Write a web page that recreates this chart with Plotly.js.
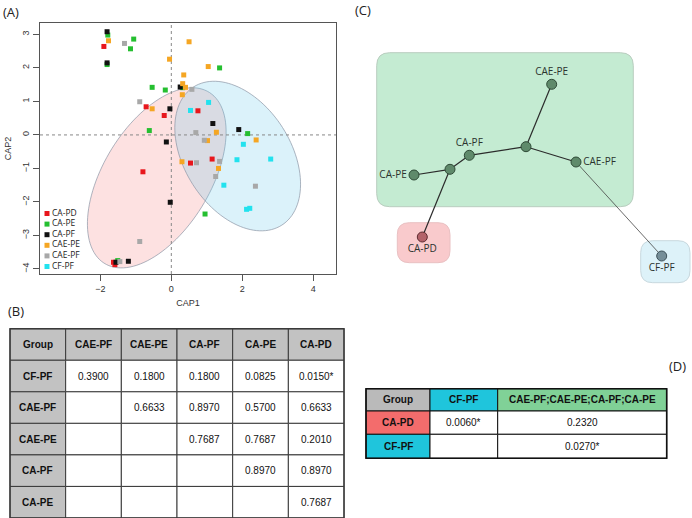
<!DOCTYPE html>
<html><head><meta charset="utf-8">
<script src="https://cdn.plot.ly/plotly-3.0.1.min.js"></script>
<style>html,body{margin:0;padding:0;background:#fff}#chart{width:692px;height:518px}</style>
</head><body><div id="chart"></div>
<script>
// ---------- Panel A data (CAP ordination) ----------
const groups = ['CA-PD','CA-PE','CA-PF','CAE-PE','CAE-PF','CF-PF'];
const caPdX  = [-1.90,-0.71,-0.20,0.75,-0.80,0.54,1.15,-1.63,-1.59];
const caPdY  = [2.64,0.84,0.58,0.72,-1.10,-0.84,-0.72,-3.80,-3.87];
const caPeX  = [-1.79,-1.81,-1.06,-1.15,1.36,-0.54,-0.17,0.32,-0.62,2.15,0.95,-1.51];
const caPeY  = [2.98,2.10,2.86,2.57,2.00,1.42,1.34,1.41,0.13,0.04,-2.36,-3.75];
const caPfX  = [-1.81,-1.81,0.25,-0.04,-0.14,1.17,1.90,-0.03,-1.21,-1.56];
const caPfY  = [3.08,2.15,1.43,0.78,-0.21,0.34,0.16,-2.01,-3.77,-3.80];
const caePeX = [-1.77,0.50,-0.05,1.04,0.35,0.32,0.40,0.31,-0.54,1.27,1.02,2.39,0.30,1.33];
const caePeY = [2.81,2.78,2.26,2.04,1.79,1.53,1.42,1.20,0.78,0.08,-0.17,-0.15,-0.80,-1.00];
const caePfX = [-1.32,-0.89,0.58,0.69,0.93,0.71,1.36,1.25,2.37,-0.89,-1.45];
const caePfY = [2.73,0.99,1.36,0.07,-0.16,-0.83,-0.79,-1.24,-1.53,-3.18,-3.78];
const cfPfX  = [1.05,0.54,2.03,1.85,2.80,1.48,2.12,2.21];
const cfPfY  = [0.97,0.73,-0.28,-0.74,-0.72,-1.50,-2.22,-2.19];
const groupX = [caPdX,caPeX,caPfX,caePeX,caePfX,cfPfX];
const groupY = [caPdY,caPeY,caPfY,caePeY,caePfY,cfPfY];

// ellipses: centre, semi-axes, rotation (deg) in data units
const ellCx = [-0.41, 1.87];
const ellCy = [-1.28, -0.63];
const ellA  = [2.95, 2.41];
const ellB  = [1.53, 1.52];
const ellAng= [61.2, -60.9];

// ---------- Panel C data (network) ----------
const nodeNames = ['CAE-PE','','CAE-PF','CA-PF','','CA-PE','CA-PD','CF-PF'];
const nodeX = [551.7,526,576,469.3,450,414,422.3,661.7];
const nodeY = [84.3,146.7,162,155.3,169.3,175,237,256];
const edgeFrom = [5,4,3,1,1,4];
const edgeTo   = [4,3,1,0,2,6];
const weakFrom = [2];
const weakTo   = [7];

// ---------- Panel B table ----------
const tabBCols = ['Group','CAE-PF','CAE-PE','CA-PF','CA-PE','CA-PD'];
const tabBRows = ['CF-PF','CAE-PF','CAE-PE','CA-PF','CA-PE'];
const tabBVals = [
  ['0.3900','0.1800','0.1800','0.0825','0.0150*'],
  ['','0.6633','0.8970','0.5700','0.6633'],
  ['','','0.7687','0.7687','0.2010'],
  ['','','','0.8970','0.8970'],
  ['','','','','0.7687']
];
// ---------- Panel D table ----------
const tabDCols = ['Group','CF-PF','CAE-PF;CAE-PE;CA-PF;CA-PE'];
const tabDRows = ['CA-PD','CF-PF'];
const tabDVals = [['0.0060*','0.2320'],['','0.0270*']];

// ---------- styles ----------
const W=692, H=518;
const colors = ['#e8161c','#25bf30','#111111','#f5a623','#a8a8a8','#22e2ee'];
const ellFill = ['rgba(245,120,120,0.22)','rgba(110,205,235,0.25)'];

const traces = [];
const shapes = [];
const annotations = [];

// ellipses
for (let k=0;k<ellCx.length;k++){
  const th = ellAng[k]*Math.PI/180;
  let p='';
  for(let i=0;i<=120;i++){
    const t=2*Math.PI*i/120;
    const x=ellCx[k]+ellA[k]*Math.cos(th)*Math.cos(t)-ellB[k]*Math.sin(th)*Math.sin(t);
    const y=ellCy[k]+ellA[k]*Math.sin(th)*Math.cos(t)+ellB[k]*Math.cos(th)*Math.sin(t);
    p += (i===0?'M':'L')+x.toFixed(4)+','+y.toFixed(4);
  }
  p+='Z';
  shapes.push({type:'path',xref:'x',yref:'y',path:p,fillcolor:ellFill[k],line:{color:'rgba(140,150,165,0.7)',width:1},layer:'below'});
}
// dotted zero lines
shapes.push({type:'line',xref:'x',yref:'y',x0:0,x1:0,y0:-4.15,y1:3.34,line:{color:'#888',width:1,dash:'dot'},layer:'below'});
shapes.push({type:'line',xref:'x',yref:'y',x0:-3.70,x1:4.64,y0:0,y1:0,line:{color:'#888',width:1,dash:'dot'},layer:'below'});

// points
groups.forEach((g,i)=>{
  traces.push({type:'scatter',mode:'markers',x:groupX[i],y:groupY[i],name:g,xaxis:'x',yaxis:'y',
    marker:{symbol:'square',size:5,color:colors[i]},showlegend:false,hoverinfo:'x+y+name'});
});
// legend (drawn manually for tight spacing)
const legX0=47, legY0=213.5, legDy=10.6;
traces.push({type:'scatter',mode:'markers',xaxis:'x2',yaxis:'y2',
  x:groups.map(()=>legX0), y:groups.map((g,i)=>legY0+i*legDy),
  marker:{symbol:'square',size:5,color:colors},showlegend:false,hoverinfo:'skip'});
traces.push({type:'scatter',mode:'text',xaxis:'x2',yaxis:'y2',
  x:groups.map(()=>legX0+5), y:groups.map((g,i)=>legY0+i*legDy),text:groups,textposition:'middle right',
  textfont:{family:'Open Sans',size:8.5,color:'#222'},showlegend:false,hoverinfo:'skip'});

// ---------- Panel C ----------
function rrect(x0,y0,x1,y1,r){
  return `M${x0+r},${y0} L${x1-r},${y0} Q${x1},${y0} ${x1},${y0+r} L${x1},${y1-r} Q${x1},${y1} ${x1-r},${y1} L${x0+r},${y1} Q${x0},${y1} ${x0},${y1-r} L${x0},${y0+r} Q${x0},${y0} ${x0+r},${y0} Z`;
}
shapes.push({type:'path',xref:'x2',yref:'y2',path:rrect(376.7,52.7,633.3,206.7,13),fillcolor:'#c4ebd2',line:{color:'#b9cdbf',width:1},layer:'below'});
shapes.push({type:'path',xref:'x2',yref:'y2',path:rrect(397.3,222.7,450,262.7,12),fillcolor:'#f9cacc',line:{color:'#e9c0c2',width:1},layer:'below'});
shapes.push({type:'path',xref:'x2',yref:'y2',path:rrect(640.7,240.7,690,282.7,12),fillcolor:'#ddf2f9',line:{color:'#c8d8de',width:1},layer:'below'});

const ex=[],ey=[];
edgeFrom.forEach((f,i)=>{ex.push(nodeX[f],nodeX[edgeTo[i]],null);ey.push(nodeY[f],nodeY[edgeTo[i]],null);});
traces.push({type:'scatter',mode:'lines',x:ex,y:ey,xaxis:'x2',yaxis:'y2',line:{color:'#2b2b2b',width:1.2},showlegend:false,hoverinfo:'skip'});
const wx=[],wy=[];
weakFrom.forEach((f,i)=>{wx.push(nodeX[f],nodeX[weakTo[i]],null);wy.push(nodeY[f],nodeY[weakTo[i]],null);});
traces.push({type:'scatter',mode:'lines',x:wx,y:wy,xaxis:'x2',yaxis:'y2',line:{color:'#444',width:0.8},showlegend:false,hoverinfo:'skip'});

const nodeFill = nodeNames.map(n=> n==='CA-PD' ? '#b4636a' : (n==='CF-PF' ? '#768f99' : '#5f8a6b'));
const nodeLine = nodeNames.map(n=> n==='CA-PD' ? '#5e2a2f' : (n==='CF-PF' ? '#3e525a' : '#2e4a36'));
const textPos = ['top center','middle center','middle right','top center','middle center','middle left','bottom center','bottom center'];
traces.push({type:'scatter',mode:'markers+text',x:nodeX,y:nodeY,xaxis:'x2',yaxis:'y2',text:nodeNames,textposition:textPos,
  textfont:{family:'Open Sans',size:10,color:'#2b332e'},
  marker:{size:10,color:nodeFill,line:{color:nodeLine,width:1}},showlegend:false,hoverinfo:'text'});

// ---------- tables ----------
function drawTable(cols,rows,vals,xE,yE,headFill,rowFill,lineCol,lineW,outerW,fontFam,fontSize,headFam){
  const nr=rows.length+1, nc=cols.length;
  for(let r=0;r<nr;r++){
    for(let c=0;c<nc;c++){
      let fill='#ffffff', txt='', bold=false;
      if(r===0){fill=headFill[c]; txt=cols[c]; bold=true;}
      else if(c===0){fill=rowFill[r-1]; txt=rows[r-1]; bold=true;}
      else {txt=vals[r-1][c-1];}
      shapes.push({type:'rect',xref:'x2',yref:'y2',x0:xE[c],x1:xE[c+1],y0:yE[r],y1:yE[r+1],fillcolor:fill,line:{color:lineCol,width:lineW},layer:'below'});
      if(txt!==''){
        annotations.push({xref:'x2',yref:'y2',x:(xE[c]+xE[c+1])/2,y:(yE[r]+yE[r+1])/2,text:bold?'<b>'+txt+'</b>':txt,
          showarrow:false,xanchor:'center',yanchor:'middle',font:{family:bold?headFam:fontFam,size:fontSize,color:'#111'}});
      }
    }
  }
  shapes.push({type:'rect',xref:'x2',yref:'y2',x0:xE[0],x1:xE[nc],y0:yE[0],y1:yE[nr],line:{color:lineCol,width:outerW},fillcolor:'rgba(0,0,0,0)',layer:'below'});
}
const bX0=10, bColW=55.67, bY0=328.7, bRowH=31.55;
const bXE = tabBCols.concat(['']).map((_,i)=>bX0+i*bColW);
const bYE = [0].concat(tabBRows).concat(['']).map((_,i)=>bY0+i*bRowH);
drawTable(tabBCols,tabBRows,tabBVals,bXE,bYE,tabBCols.map(()=> '#c2c2c2'),tabBRows.map(()=> '#c2c2c2'),
  '#3a3a3a',1,1.4,'Liberation Sans Narrow, Liberation Sans',10,'Liberation Sans Narrow, Liberation Sans');

const dXE=[366,430,497.7,666.7], dYE=[388.7,411,434.3,458.3];
drawTable(tabDCols,tabDRows,tabDVals,dXE,dYE,['#bababa','#1fc5dc','#80d197'],['#f36c6c','#1fc5dc'],
  '#111',1,1.6,'Liberation Sans',10,'Liberation Sans');

// ---------- panel labels ----------
[['(A)',11,11.5],['(B)',16,311],['(C)',362.5,9.5],['(D)',677,366]].forEach(l=>{
  annotations.push({xref:'x2',yref:'y2',x:l[1],y:l[2],text:l[0],showarrow:false,xanchor:'center',yanchor:'middle',
    font:{family:'Open Sans',size:13,color:'#222'}});
});

const tickFont={family:'Liberation Sans',size:9,color:'#333'};
const layout={
  width:W,height:H,margin:{l:0,r:0,t:0,b:0},paper_bgcolor:'#fff',plot_bgcolor:'rgba(0,0,0,0)',
  showlegend:false,
  xaxis:{domain:[40/W,336/W],range:[-3.70,4.64],tickvals:[-2,0,2,4],showgrid:false,zeroline:false,
    showline:true,mirror:true,linecolor:'#555',linewidth:1,ticks:'outside',ticklen:6,tickcolor:'#555',
    tickfont:tickFont,title:{text:'CAP1',font:tickFont,standoff:6},anchor:'y',fixedrange:true},
  yaxis:{domain:[1-274/H,1-23/H],range:[-4.15,3.34],tickvals:[-4,-3,-2,-1,0,1,2,3],tickangle:-90,showgrid:false,zeroline:false,
    showline:true,mirror:true,linecolor:'#555',linewidth:1,ticks:'outside',ticklen:6,tickcolor:'#555',
    tickfont:tickFont,title:{text:'CAP2',font:tickFont,standoff:8},anchor:'x',fixedrange:true},
  xaxis2:{domain:[0,1],range:[0,W],visible:false,anchor:'y2',fixedrange:true},
  yaxis2:{domain:[0,1],range:[H,0],visible:false,anchor:'x2',fixedrange:true},
  shapes:shapes,annotations:annotations
};
Plotly.newPlot('chart',traces,layout,{displayModeBar:false,staticPlot:true});
</script></body></html>
